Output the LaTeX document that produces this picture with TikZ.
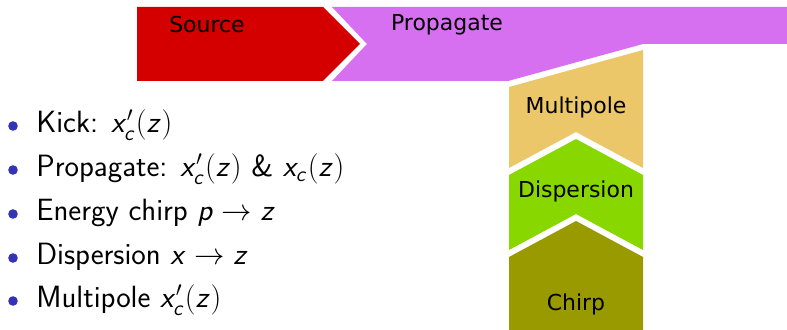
\documentclass[tikz,border=0pt]{standalone}
\usepackage{fontspec}
\newfontfamily\boxfont{DejaVu Sans}
\DeclareMathAlphabet{\mathsfit}{OT1}{cmss}{m}{sl}
\definecolor{srcred}{HTML}{D40000}
\definecolor{proppurple}{HTML}{D670F0}
\definecolor{multyellow}{HTML}{EBC76A}
\definecolor{dispgreen}{HTML}{88D800}
\definecolor{chirpolive}{HTML}{999900}
\definecolor{itemblue}{HTML}{3333B3}
\newcommand{\xc}{\mathsfit{x}_{\mathsfit{c}}}
\newcommand{\xpc}{\mathsfit{x}'_{\mathsfit{c}}}
\newcommand{\zz}{\mathsfit{z}}
\begin{document}
\begin{tikzpicture}[x=0.02cm,y=-0.02cm,line join=round,
	boxlabel/.style={font=\boxfont\fontsize{12.5}{14}\selectfont},
	itemtext/.style={anchor=west,inner sep=0pt,font=\sffamily\fontsize{17.5}{20}\selectfont}]
				\useasboundingbox (0,0) rectangle (787,330);
				% chevrons along the top
				\fill[srcred] (137,7) -- (323,7) -- (360,44) -- (323,81) -- (137,81) -- cycle;
				\fill[proppurple] (332,7) -- (787,7) -- (787,44) -- (643,44) -- (508,81) -- (332,81) -- (367,44) -- cycle;
				% column going down
				\fill[multyellow] (509,87) -- (643,50) -- (643,168) -- (576,132) -- (509,168) -- cycle;
				\fill[dispgreen] (509,175) -- (576,139) -- (643,175) -- (643,250) -- (576,214) -- (509,250) -- cycle;
				\fill[chirpolive] (509,257) -- (576,221) -- (643,257) -- (643,330) -- (509,330) -- cycle;
				\node[boxlabel] (source) at (207,25) {Source};
				\node[boxlabel] (propagate) at (447,25) {Propagate};
				\node[boxlabel] (multipole) at (576,107) {Multipole};
				\node[boxlabel] (dispersion) at (576,191) {Dispersion};
				\node[boxlabel] (chirp) at (576,304) {Chirp};
				% list on the left
				\foreach \y in {126,170,214,258,301}
					\fill[itemblue] (13,\y) circle (4.8);
				\node[itemtext] (kick) at (36,125) {Kick: $\xpc(\zz)$};
				\node[itemtext] (prop) at (36,169) {Propagate: $\xpc(\zz)$ \& $\xc(\zz)$};
				\node[itemtext] (energy) at (36,213) {Energy chirp $\mathsfit{p}\to\zz$};
				\node[itemtext] (disp) at (36,257) {Dispersion $\mathsfit{x}\to\zz$};
				\node[itemtext] (multi) at (36,300) {Multipole $\xpc(\zz)$};
			\end{tikzpicture}
\end{document}
